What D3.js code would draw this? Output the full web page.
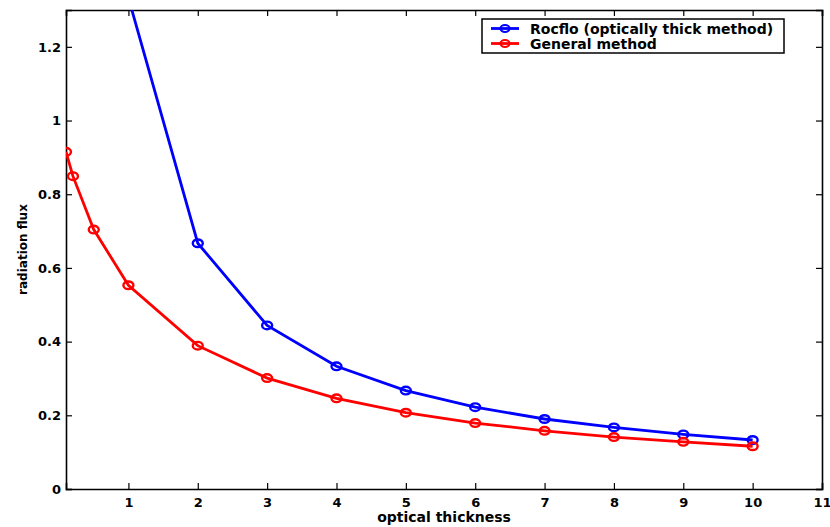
<!DOCTYPE html>
<html>
  <head>
    <script src="https://d3js.org/d3.v7.min.js"></script>
    <style>
      body { margin: 0; background: #fff; }
      text { font-family: "DejaVu Sans", sans-serif; font-weight: bold; fill: #000; }
    </style>
  </head>
  <body>
    <svg width="830" height="527"></svg>
    <script>
      // data
      const generalX = [0.1, 0.2, 0.5, 1, 2, 3, 4, 5, 6, 7, 8, 9, 10];
      const generalY = [0.915, 0.849, 0.704, 0.553, 0.389, 0.301, 0.246, 0.207, 0.179, 0.158, 0.141, 0.128, 0.116];
      const rocfloX = [1, 2, 3, 4, 5, 6, 7, 8, 9, 10];
      const rocfloY = [1.333, 0.667, 0.444, 0.333, 0.267, 0.222, 0.190, 0.167, 0.148, 0.133];
      const xTicks = [1, 2, 3, 4, 5, 6, 7, 8, 9, 10, 11];
      const yTicks = [0, 0.2, 0.4, 0.6, 0.8, 1, 1.2];
      const seriesNames = ["Rocflo (optically thick method)", "General method"];
      const seriesColors = ["#0000ff", "#ff0000"];

      const margin = {left: 66, top: 10, right: 8, bottom: 38};
      const width = 830, height = 527;
      const svg = d3.select("svg");

      const x = d3.scaleLinear().domain([0.1, 11]).range([margin.left, width - margin.right]);
      const y = d3.scaleLinear().domain([0, 1.3]).range([height - margin.bottom, margin.top]);

      svg.append("clipPath").attr("id", "plot-clip")
        .append("rect")
          .attr("x", x(0.1)).attr("y", y(1.3))
          .attr("width", x(11) - x(0.1)).attr("height", y(0) - y(1.3));

      // axes with inward ticks, mirrored on top/right
      const tickLen = 6;
      svg.append("g").attr("transform", `translate(0,${y(0)})`)
        .call(d3.axisBottom(x).tickValues(xTicks).tickSize(-tickLen).tickPadding(9).tickFormat(d3.format("d")));
      svg.append("g").attr("transform", `translate(0,${y(1.3)})`)
        .call(d3.axisTop(x).tickValues(xTicks).tickSize(-tickLen).tickFormat(""));
      svg.append("g").attr("transform", `translate(${x(0.1)},0)`)
        .call(d3.axisLeft(y).tickValues(yTicks).tickSize(-tickLen).tickPadding(5).tickFormat(d3.format("")));
      svg.append("g").attr("transform", `translate(${x(11)},0)`)
        .call(d3.axisRight(y).tickValues(yTicks).tickSize(-tickLen).tickFormat(""));

      svg.selectAll(".domain").attr("stroke", "#000").attr("stroke-width", 1.6);
      svg.selectAll(".tick line").attr("stroke", "#000").attr("stroke-width", 1.2);
      svg.selectAll(".tick text").attr("font-size", 13).attr("font-family", null);

      const series = [
        {xs: rocfloX, ys: rocfloY, color: seriesColors[0]},
        {xs: generalX, ys: generalY, color: seriesColors[1]}
      ];
      const line = d3.line().x(d => x(d[0])).y(d => y(d[1]));
      const plot = svg.append("g").attr("clip-path", "url(#plot-clip)");
      series.forEach(s => {
        const pts = d3.zip(s.xs, s.ys);
        plot.append("path")
          .datum(pts)
          .attr("fill", "none")
          .attr("stroke", s.color)
          .attr("stroke-width", 2.8)
          .attr("d", line);
        plot.selectAll(null)
          .data(pts)
          .enter().append("ellipse")
            .attr("cx", d => x(d[0]))
            .attr("cy", d => y(d[1]))
            .attr("rx", 5).attr("ry", 3.8)
            .attr("fill", "none")
            .attr("stroke", s.color)
            .attr("stroke-width", 2.4);
      });

      // axis labels
      svg.append("text")
        .attr("x", (x(0.1) + x(11)) / 2).attr("y", 522)
        .attr("text-anchor", "middle")
        .attr("font-size", 14)
        .text("optical thickness");
      svg.append("text")
        .attr("transform", `translate(27,${(y(0) + y(1.3)) / 2}) rotate(-90)`)
        .attr("text-anchor", "middle")
        .attr("font-size", 12)
        .text("radiation flux");

      // legend
      const legendG = svg.append("g").attr("transform", "translate(482,19)");
      legendG.append("rect")
        .attr("width", 302).attr("height", 34)
        .attr("fill", "#fff").attr("stroke", "#000").attr("stroke-width", 1.5);
      const item = legendG.selectAll(".item")
        .data(seriesNames)
        .enter().append("g")
          .attr("class", "item")
          .attr("transform", (d, i) => `translate(0,${9.5 + i * 15})`);
      item.append("line")
        .attr("x1", 9).attr("x2", 37)
        .attr("stroke", (d, i) => seriesColors[i]).attr("stroke-width", 2.8);
      item.append("ellipse")
        .attr("cx", 23).attr("rx", 4.5).attr("ry", 3.5)
        .attr("fill", "none")
        .attr("stroke", (d, i) => seriesColors[i]).attr("stroke-width", 2.2);
      item.append("text")
        .attr("x", 48).attr("dy", "0.36em")
        .attr("font-size", 14)
        .text(d => d);
    </script>
  </body>
</html>
